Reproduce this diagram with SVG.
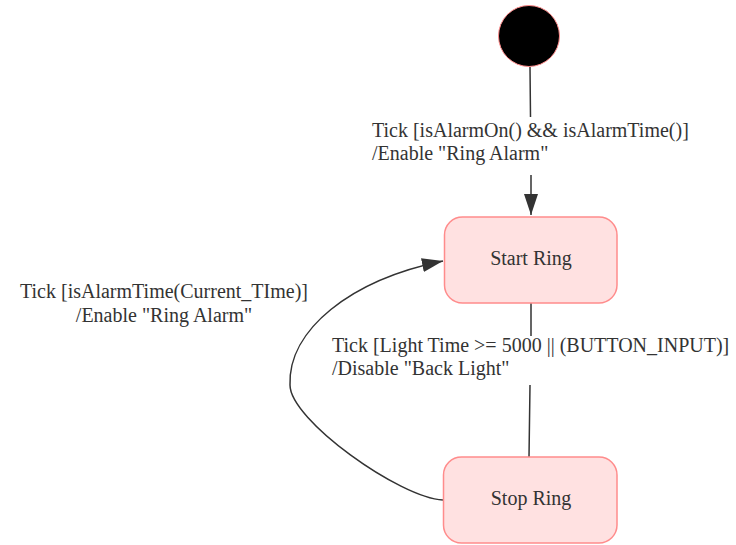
<svg xmlns="http://www.w3.org/2000/svg" width="736" height="545" viewBox="0 0 736 545">
  <style>
    .lbl { font-family: "Liberation Serif", "Times New Roman", serif; font-size: 20px; fill: #333333; }
    .state rect { fill: #ffe1e1; stroke: #ff8c8c; stroke-width: 1.5; }
    .conn { fill: none; stroke: #333333; stroke-width: 1.5; }
  </style>
  <defs>
    <marker id="arrow" markerUnits="userSpaceOnUse" markerWidth="22" markerHeight="16" refX="21" refY="7" orient="auto">
      <path d="M0,0 L21,7 L0,14 Z" fill="#333333"/>
    </marker>
  </defs>
  <rect width="736" height="545" fill="#ffffff"/>

  <g id="connectors">
    <path class="conn" d="M530 67 L530.5 117 M531 175 L531 215" marker-end="url(#arrow)"/>
    <path class="conn" d="M531 303 L531 336 M530 385 L529 457"/>
    <path class="conn" d="M443 500 C400 498 290 420 290 385 C288 330 350 280 443 261" marker-end="url(#arrow)"/>
  </g>

  <g id="initial">
    <circle cx="529" cy="36" r="30.5" fill="#000000" stroke="#ff8c8c" stroke-width="1"/>
  </g>

  <g id="start-ring" class="state">
    <rect x="444.5" y="217" width="172.5" height="86" rx="18" ry="18"/>
    <text class="lbl" x="531" y="265" text-anchor="middle">Start Ring</text>
  </g>

  <g id="stop-ring" class="state">
    <rect x="443.5" y="457" width="173.5" height="86" rx="18" ry="18"/>
    <text class="lbl" x="531" y="505" text-anchor="middle">Stop Ring</text>
  </g>

  <g id="labels">
    <text class="lbl" x="372" y="137">Tick [isAlarmOn() &amp;&amp; isAlarmTime()]</text>
    <text class="lbl" x="372" y="160">/Enable "Ring Alarm"</text>
    <text class="lbl" x="164" y="298" text-anchor="middle">Tick [isAlarmTime(Current_TIme)]</text>
    <text class="lbl" x="164" y="322" text-anchor="middle">/Enable "Ring Alarm"</text>
    <text class="lbl" x="332" y="352">Tick [Light Time &gt;= 5000 || (BUTTON_INPUT)]</text>
    <text class="lbl" x="332" y="375">/Disable "Back Light"</text>
  </g>
</svg>
